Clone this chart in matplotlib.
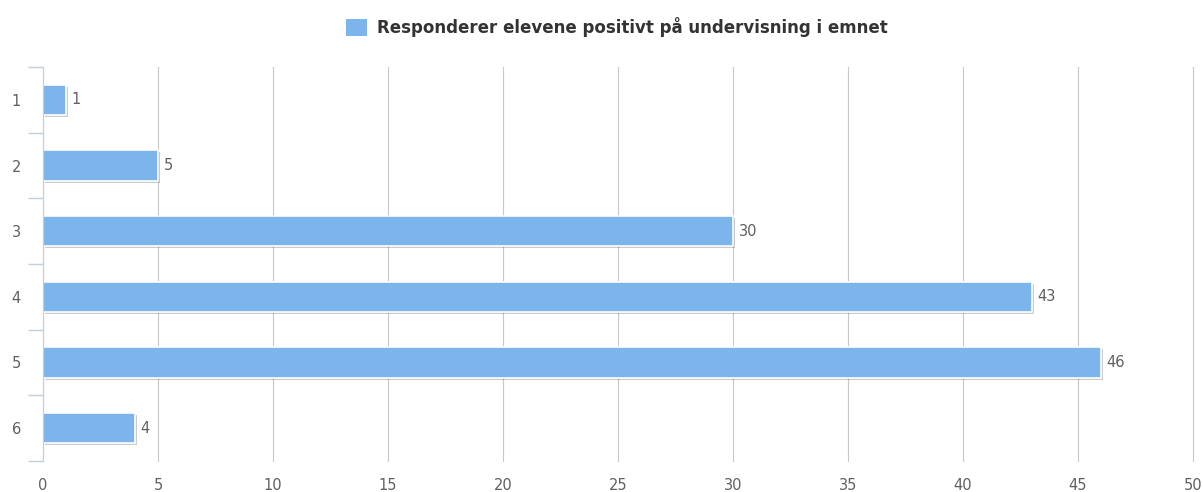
import matplotlib.pyplot as plt
import matplotlib.patheffects as pe
from matplotlib.patches import Patch

# Data
categories = ['1', '2', '3', '4', '5', '6']
values = [1, 5, 30, 43, 46, 4]
series_name = 'Responderer elevene positivt på undervisning i emnet'

bar_color = '#7cb5ec'
text_color = '#606060'

fig = plt.figure(figsize=(12.03, 4.92), dpi=100)
ax = fig.add_axes([43 / 1203, 1 - 461 / 492, 1150 / 1203, 394 / 492])

pos = list(range(len(categories)))
bars = ax.barh(pos, values, height=0.46, color=bar_color, edgecolor='white',
               linewidth=1.2, zorder=3)
for b in bars:
    b.set_path_effects([pe.SimplePatchShadow(offset=(1.5, -1.5), alpha=0.2,
                                             shadow_rgbFace='black'),
                        pe.Normal()])

for p, v in zip(pos, values):
    ax.text(v + 0.25, p, str(v), va='center', ha='left', fontsize=10.5,
            color=text_color, zorder=4)

ax.set_ylim(len(categories) - 0.5, -0.5)
ax.set_xlim(0, 50)
ax.set_xticks(range(0, 51, 5))
ax.grid(axis='x', color='#c8c8c8', linewidth=0.8, zorder=0)
for gl in ax.get_xgridlines():
    gl.set_clip_on(False)
ax.tick_params(axis='x', length=0, pad=12, labelsize=10.5, labelcolor=text_color)

# category labels in the middle of each band, ticks on band boundaries
ax.set_yticks(pos)
ax.set_yticklabels(categories)
ax.tick_params(axis='y', which='major', length=0, pad=16, labelsize=10.5,
               labelcolor=text_color)
ax.set_yticks([p - 0.5 for p in pos] + [len(pos) - 0.5], minor=True)
ax.tick_params(axis='y', which='minor', length=11, color='#c0d0e0', width=1)

for s in ['top', 'right', 'bottom']:
    ax.spines[s].set_visible(False)
ax.spines['left'].set_color('#c0d0e0')
ax.spines['left'].set_zorder(5)

fig.legend(handles=[Patch(facecolor=bar_color, edgecolor='none')],
           labels=[series_name], loc='center', bbox_to_anchor=(0.513, 1 - 27 / 492),
           frameon=False, handlelength=1.25, handleheight=1.25, handletextpad=0.6,
           prop={'weight': 'bold', 'size': 12}, labelcolor='#333333')

fig.savefig('out.png', dpi=100)
